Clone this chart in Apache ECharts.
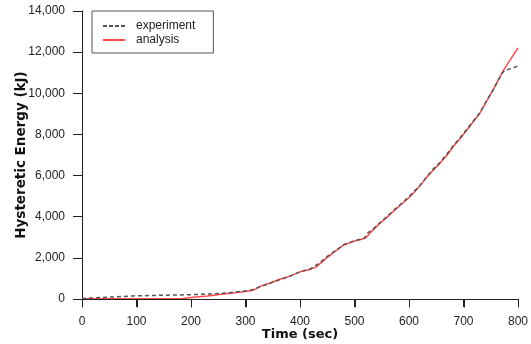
<!DOCTYPE html>
<html>
<head>
<meta charset="utf-8">
<script src="https://cdn.jsdelivr.net/npm/echarts@6/dist/echarts.min.js"></script>
<style>
  html, body { margin: 0; padding: 0; background: #fff; }
  #chart { width: 531px; height: 344px; }
</style>
</head>
<body>
<div id="chart"></div>
<script>
// Hysteretic energy over time: measured (experiment) vs. computed (analysis)
const seriesNames = ['experiment', 'analysis'];

const experimentTime = [0, 50, 94, 150, 198, 240, 277, 308, 330, 345, 363, 380, 400, 420, 435, 449, 465, 480, 500, 518, 524, 535, 547, 560, 571, 585, 599, 610, 620, 632, 644, 657, 670, 681, 694, 706, 718, 730, 742, 755, 770, 776, 791, 800];
const experimentEnergy = [30, 90, 150, 185, 210, 250, 320, 420, 620, 760, 940, 1090, 1320, 1480, 1730, 2050, 2350, 2640, 2830, 2960, 3200, 3420, 3720, 4020, 4290, 4620, 4950, 5250, 5520, 5920, 6300, 6650, 7060, 7450, 7850, 8250, 8650, 9050, 9620, 10200, 10950, 11120, 11230, 11330];

const analysisTime = [0, 100, 185, 200, 230, 260, 280, 300, 314, 330, 345, 363, 380, 400, 420, 430, 449, 465, 480, 500, 510, 521, 530, 547, 560, 571, 585, 599, 610, 620, 632, 644, 657, 670, 681, 694, 706, 718, 730, 742, 755, 765, 773, 785, 795, 800];
const analysisEnergy = [10, 15, 20, 70, 150, 240, 300, 370, 420, 650, 780, 960, 1100, 1320, 1450, 1560, 2000, 2330, 2620, 2820, 2880, 2980, 3250, 3680, 3980, 4250, 4580, 4900, 5200, 5500, 5900, 6250, 6600, 7000, 7400, 7800, 8200, 8620, 9030, 9600, 10200, 10700, 11100, 11600, 12000, 12200];

const xTicks = [0, 100, 200, 300, 400, 500, 600, 700, 800];
const yTicks = [0, 2000, 4000, 6000, 8000, 10000, 12000, 14000];

const pairs = (xs, ys) => xs.map((x, i) => [x, ys[i]]);
const font = '"Liberation Sans", Arial, sans-serif';

// legend swatches: a short dashed stroke and a solid stroke
const dashedIcon = 'path://M0,0h4v2h-4z M6,0h4v2h-4z M12,0h4v2h-4z M18,0h4v2h-4z';
const solidIcon = 'path://M0,0h22v2h-22z';

const chart = echarts.init(document.getElementById('chart'), null, { renderer: 'canvas' });
chart.setOption({
  animation: false,
  backgroundColor: '#ffffff',
  grid: { left: 82, right: 13, top: 11, bottom: 45, containLabel: false, outerBoundsMode: 'none' },
  legend: {
    left: 92,
    top: 11,
    orient: 'vertical',
    data: [
      { name: seriesNames[0], icon: dashedIcon },
      { name: seriesNames[1], icon: solidIcon }
    ],
    itemWidth: 22,
    itemHeight: 2,
    itemGap: 0,
    padding: [8, 18, 6, 11],
    borderColor: '#555',
    borderWidth: 1,
    backgroundColor: '#fff',
    textStyle: { fontFamily: font, fontSize: 12, lineHeight: 14, color: '#222', padding: [0, 0, 0, 6] }
  },
  xAxis: {
    type: 'value',
    position: 'bottom',
    min: 0,
    max: 800,
    interval: 100,
    name: 'Time (sec)',
    nameLocation: 'middle',
    nameGap: 29,
    nameMoveOverlap: false,
    nameTextStyle: { fontFamily: '"DejaVu Sans", sans-serif', fontWeight: 'bold', fontSize: 13, color: '#111' },
    axisLine: { show: true, lineStyle: { color: '#222', width: 1 } },
    axisTick: { show: true, inside: false, length: 8, lineStyle: { color: '#222', width: 1 } },
    axisLabel: { margin: 17, fontFamily: font, fontSize: 12, color: '#222' },
    splitLine: { show: false }
  },
  yAxis: {
    type: 'value',
    min: 0,
    max: 14000,
    interval: 2000,
    name: 'Hysteretic Energy (kJ)',
    nameLocation: 'middle',
    nameGap: 54,
    nameRotate: 90,
    nameMoveOverlap: false,
    nameTextStyle: { fontFamily: '"DejaVu Sans", sans-serif', fontWeight: 'bold', fontSize: 13.5, color: '#111' },
    axisLine: { show: true, lineStyle: { color: '#222', width: 1 } },
    axisTick: { show: true, inside: false, length: 9, lineStyle: { color: '#222' } },
    axisLabel: {
      margin: 17,
      fontFamily: font,
      fontSize: 12,
      color: '#222',
      formatter: v => v.toLocaleString('en-US')
    },
    splitLine: { show: false }
  },
  series: [
    {
      name: seriesNames[0],
      type: 'line',
      data: pairs(experimentTime, experimentEnergy),
      symbol: 'none',
      smooth: false,
      z: 3,
      itemStyle: { color: '#555' },
      lineStyle: { color: '#555', width: 1.5, type: [4, 3] }
    },
    {
      name: seriesNames[1],
      type: 'line',
      data: pairs(analysisTime, analysisEnergy),
      symbol: 'none',
      smooth: false,
      z: 2,
      itemStyle: { color: '#ff4a4a' },
      lineStyle: { color: '#ff4a4a', width: 1.5 }
    }
  ]
});

// bottom baseline with outward ticks, placed through the chart's own x/y scales
const toPx = v => chart.convertToPixel({ xAxisIndex: 0, yAxisIndex: 0 }, v);
const p0 = toPx([xTicks[0], 0]);
const p1 = toPx([xTicks[xTicks.length - 1], 0]);
const baseY = Math.round(p0[1]) + 0.5;
const strokes = [{ type: 'line', shape: { x1: p0[0], y1: baseY, x2: p1[0], y2: baseY } }]
  .concat(xTicks.map(t => {
    const px = Math.round(toPx([t, 0])[0]) + 0.5;
    return { type: 'line', shape: { x1: px, y1: baseY, x2: px, y2: baseY + 8 } };
  }));
chart.setOption({
  graphic: strokes.map(s => Object.assign(s, {
    z: 100,
    silent: true,
    style: { stroke: '#222', lineWidth: 1 }
  }))
});
</script>
</body>
</html>
